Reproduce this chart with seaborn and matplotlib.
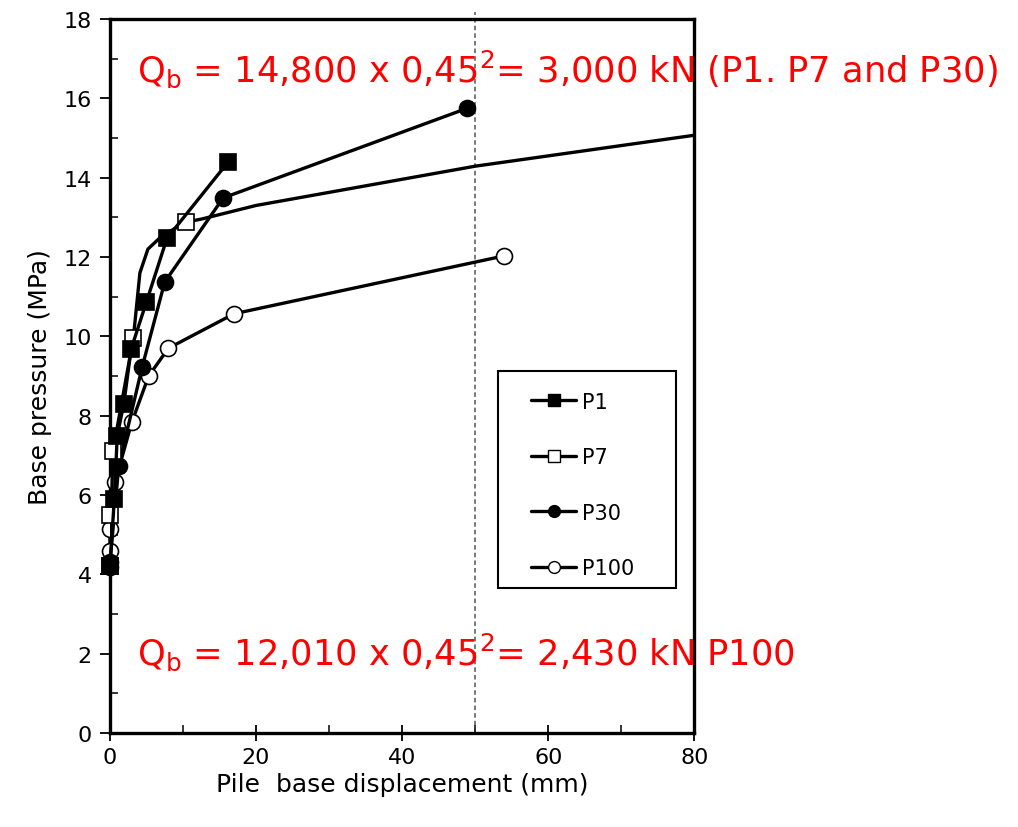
import matplotlib
matplotlib.use("Agg")
import matplotlib.pyplot as plt
from matplotlib.lines import Line2D
from matplotlib.patches import Rectangle
from matplotlib.ticker import MultipleLocator
import seaborn as sns

# Pile base load tests: base pressure vs. base displacement
p1_disp = [0.0, 0.6, 1.0, 1.9, 2.9, 5.0, 7.8, 16.2]
p1_pres = [4.2, 5.9, 7.5, 8.3, 9.68, 10.87, 12.47, 14.4]

p7_disp = [0.0, 0.0, 0.4, 3.2, 10.4]
p7_pres = [4.2, 5.5, 7.1, 9.95, 12.88]
# fitted P7 curve, extended to 80 mm
p7_fit_disp = [0.0, 0.4, 3.2, 4.1, 5.2, 7.1, 10.4, 12.6, 20.0, 50.0, 80.0]
p7_fit_pres = [4.2, 7.1, 9.95, 11.6, 12.2, 12.53, 12.88, 12.96, 13.3, 14.29, 15.07]

p30_disp = [0.0, 1.2, 4.4, 7.5, 15.5, 48.9]
p30_pres = [4.3, 6.72, 9.22, 11.37, 13.49, 15.75]

p100_disp = [0.0, 0.0, 0.0, 0.7, 3.0, 5.3, 8.0, 17.0, 54.0]
p100_pres = [4.18, 4.59, 5.14, 6.33, 7.84, 9.0, 9.7, 10.57, 12.03]

limit_disp = 50.0

note_top = r"Q$_{\mathrm{b}}$ = 14,800 x 0,45$^{2}$= 3,000 kN (P1. P7 and P30)"
note_bottom = r"Q$_{\mathrm{b}}$ = 12,010 x 0,45$^{2}$= 2,430 kN P100"

sns.set_theme(style="white")
plt.rcParams["font.family"] = ["DejaVu Sans"]
plt.rcParams["mathtext.fontset"] = "custom"
plt.rcParams["mathtext.rm"] = "DejaVu Sans"

fig = plt.figure(figsize=(10.18, 8.28), dpi=100)
ax = fig.add_axes([0.108, 0.1135, 0.574, 0.8623])

LW = 2.4
MS = 11.5
common = dict(ax=ax, color="black", linewidth=LW, sort=False, estimator=None,
              markeredgecolor="black", markeredgewidth=1.2, markersize=MS,
              legend=False, clip_on=False)

# P100 and P30 first (drawn underneath)
sns.lineplot(x=p100_disp, y=p100_pres, marker="o", markerfacecolor="white", **common)
sns.lineplot(x=p30_disp, y=p30_pres, marker="o", markerfacecolor="black", **common)
# P7: fitted curve + markers
sns.lineplot(x=p7_fit_disp, y=p7_fit_pres, ax=ax, color="black", linewidth=LW,
             sort=False, estimator=None, legend=False)
sns.lineplot(x=p7_disp, y=p7_pres, marker="s", markerfacecolor="white",
             linestyle="none", **common)
sns.lineplot(x=p1_disp, y=p1_pres, marker="s", markerfacecolor="black", **common)

ax.axvline(limit_disp, ymin=0, ymax=1.01, color="#555555", lw=1.1,
           ls=(0, (3, 2)), clip_on=False, zorder=0)

ax.set_xlim(0, 80)
ax.set_ylim(0, 18)
ax.xaxis.set_major_locator(MultipleLocator(20))
ax.xaxis.set_minor_locator(MultipleLocator(10))
ax.yaxis.set_major_locator(MultipleLocator(2))
ax.yaxis.set_minor_locator(MultipleLocator(1))
ax.tick_params(axis="y", which="major", direction="out", length=7, width=1.3,
               labelsize=16, pad=6, colors="black", left=True)
ax.tick_params(axis="y", which="minor", direction="in", length=6, width=1.3, left=True)
ax.tick_params(axis="x", which="major", direction="inout", length=12, width=1.3,
               labelsize=16, pad=4, colors="black", bottom=True)
ax.tick_params(axis="x", which="minor", direction="in", length=6, width=1.3, bottom=True)
for s in ax.spines.values():
    s.set_visible(True)
    s.set_color("black")
    s.set_linewidth(2.4)
    s.set_zorder(1)

ax.set_ylabel("Base pressure (MPa)", fontsize=18, color="black", labelpad=8)
ax.set_xlabel("Pile  base displacement (mm)", fontsize=18, color="black", labelpad=4)

ax.text(3.7, 16.75, note_top, color="red", fontsize=25.4, va="center", ha="left",
        clip_on=False)
ax.text(3.7, 2.05, note_bottom, color="red", fontsize=25.4, va="center", ha="left",
        clip_on=False)

# legend
handles = [
    Line2D([], [], color="black", lw=LW, marker="s", markerfacecolor="black",
           markeredgecolor="black", markersize=8.5),
    Line2D([], [], color="black", lw=LW, marker="s", markerfacecolor="white",
           markeredgecolor="black", markersize=8.5),
    Line2D([], [], color="black", lw=LW, marker="o", markerfacecolor="black",
           markeredgecolor="black", markersize=8.5),
    Line2D([], [], color="black", lw=LW, marker="o", markerfacecolor="white",
           markeredgecolor="black", markersize=8.5),
]
ax.add_patch(Rectangle((0.664, 0.203), 0.305, 0.304, transform=ax.transAxes,
                       fill=False, edgecolor="black", lw=1.5, zorder=5))
ax.legend(handles, ["P1", "P7", "P30", "P100"], loc="upper left",
          bbox_to_anchor=(0.72, 0.478), frameon=False, fontsize=15,
          handlelength=2.2, handletextpad=0.25, labelspacing=1.7, borderpad=0,
          borderaxespad=0, labelcolor="black")

fig.savefig("out.png", dpi=100)
